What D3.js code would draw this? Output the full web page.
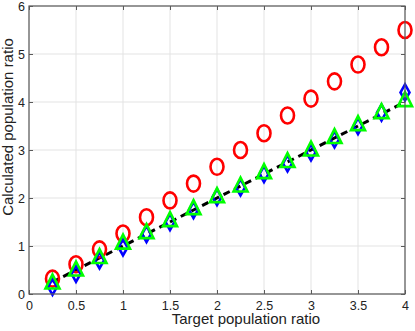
<!DOCTYPE html>
<html>
<head>
<meta charset="utf-8">
<script src="https://cdn.jsdelivr.net/npm/d3@7"></script>
<style>
  body { margin: 0; background: #fff; }
  text { font-family: "Liberation Sans", Arial, sans-serif; }
</style>
</head>
<body>
<svg id="chart" width="415" height="331"></svg>
<script>
const targets = [0.25, 0.5, 0.75, 1, 1.25, 1.5, 1.75, 2, 2.25, 2.5, 2.75, 3, 3.25, 3.5, 3.75, 4];
const redValues = [0.32, 0.62, 0.93, 1.26, 1.6, 1.95, 2.3, 2.65, 3.0, 3.35, 3.72, 4.07, 4.43, 4.78, 5.14, 5.5];
const blueValues = [0.15, 0.42, 0.7, 0.97, 1.25, 1.5, 1.75, 2.02, 2.22, 2.5, 2.72, 2.95, 3.22, 3.5, 3.78, 4.2];
const greenValues = [0.25, 0.52, 0.78, 1.08, 1.3, 1.55, 1.8, 2.05, 2.27, 2.55, 2.78, 3.02, 3.28, 3.55, 3.8, 4.05];
const xTicks = [0, 0.5, 1, 1.5, 2, 2.5, 3, 3.5, 4];
const yTicks = [0, 1, 2, 3, 4, 5, 6];

const margin = { top: 6, right: 10, bottom: 37, left: 29 };
const width = 415, height = 331;
const innerWidth = width - margin.left - margin.right;
const innerHeight = height - margin.top - margin.bottom;

const svg = d3.select('#chart');
const g = svg.append('g').attr('transform', `translate(${margin.left}, ${margin.top})`);

const xScale = d3.scaleLinear().domain([0, 4]).range([0, innerWidth]);
const yScale = d3.scaleLinear().domain([0, 6]).range([innerHeight, 0]);

// grid
g.selectAll('.vgrid').data(xTicks).join('line')
    .attr('x1', d => xScale(d)).attr('x2', d => xScale(d))
    .attr('y1', 0).attr('y2', innerHeight)
    .attr('stroke', '#e3e3e3').attr('stroke-width', 1);
g.selectAll('.hgrid').data(yTicks).join('line')
    .attr('y1', d => yScale(d)).attr('y2', d => yScale(d))
    .attr('x1', 0).attr('x2', innerWidth)
    .attr('stroke', '#e3e3e3').attr('stroke-width', 1);

// axes (ticks inward)
const axisColor = '#5a5a5a';
const fmt = d3.format('~g');
const styleAxis = sel => {
    sel.select('.domain').remove();
    sel.selectAll('line').attr('stroke', axisColor);
    sel.selectAll('text').attr('fill', '#222').style('font-size', '12.5px');
};
g.append('g').attr('transform', `translate(0, ${innerHeight})`)
    .call(d3.axisBottom(xScale).tickValues(xTicks).tickSize(-4).tickPadding(7).tickFormat(fmt))
    .call(styleAxis);
g.append('g')
    .call(d3.axisLeft(yScale).tickValues(yTicks).tickSize(-4).tickPadding(4).tickFormat(fmt))
    .call(styleAxis);
// tick marks on top and right edges (no labels)
const topAxis = g.append('g')
    .call(d3.axisTop(xScale).tickValues(xTicks).tickSize(-4))
    .call(styleAxis);
topAxis.selectAll('text').remove();
const rightAxis = g.append('g').attr('transform', `translate(${innerWidth}, 0)`)
    .call(d3.axisRight(yScale).tickValues(yTicks).tickSize(-4))
    .call(styleAxis);
rightAxis.selectAll('text').remove();

// reference dashed line
g.append('path')
    .datum(targets)
    .attr('fill', 'none')
    .attr('stroke', '#000')
    .attr('stroke-width', 3)
    .attr('stroke-dasharray', '7,5')
    .attr('d', d3.line().x(d => xScale(d)).y(d => yScale(d)));

// red circles
g.selectAll('.red').data(targets).join('ellipse')
    .attr('cx', d => xScale(d))
    .attr('cy', (d, i) => yScale(redValues[i]))
    .attr('rx', 6.5).attr('ry', 8)
    .attr('fill', 'none').attr('stroke', '#ff0000').attr('stroke-width', 2.6);

// blue diamonds
g.selectAll('.blue').data(targets).join('path')
    .attr('transform', (d, i) => `translate(${xScale(d)}, ${yScale(blueValues[i])})`)
    .attr('d', 'M0,-8L4.5,0L0,8L-4.5,0Z')
    .attr('fill', 'none').attr('stroke', '#0000ff').attr('stroke-width', 2.6);

// green triangles
g.selectAll('.green').data(targets).join('path')
    .attr('transform', (d, i) => `translate(${xScale(d)}, ${yScale(greenValues[i])})`)
    .attr('d', 'M0,-7.5L7,6.5L-7,6.5Z')
    .attr('fill', 'none').attr('stroke', '#00ff00').attr('stroke-width', 2.6);

// box
g.append('rect')
    .attr('width', innerWidth).attr('height', innerHeight)
    .attr('fill', 'none').attr('stroke', axisColor).attr('stroke-width', 1.2);

// labels
svg.append('text')
    .attr('x', 246).attr('y', 324)
    .attr('text-anchor', 'middle').style('font-size', '15px').attr('fill', '#222')
    .text('Target population ratio');
svg.append('text')
    .attr('transform', 'translate(13, 127) rotate(-90)')
    .attr('text-anchor', 'middle').style('font-size', '15px').attr('fill', '#222')
    .text('Calculated population ratio');
</script>
</body>
</html>
